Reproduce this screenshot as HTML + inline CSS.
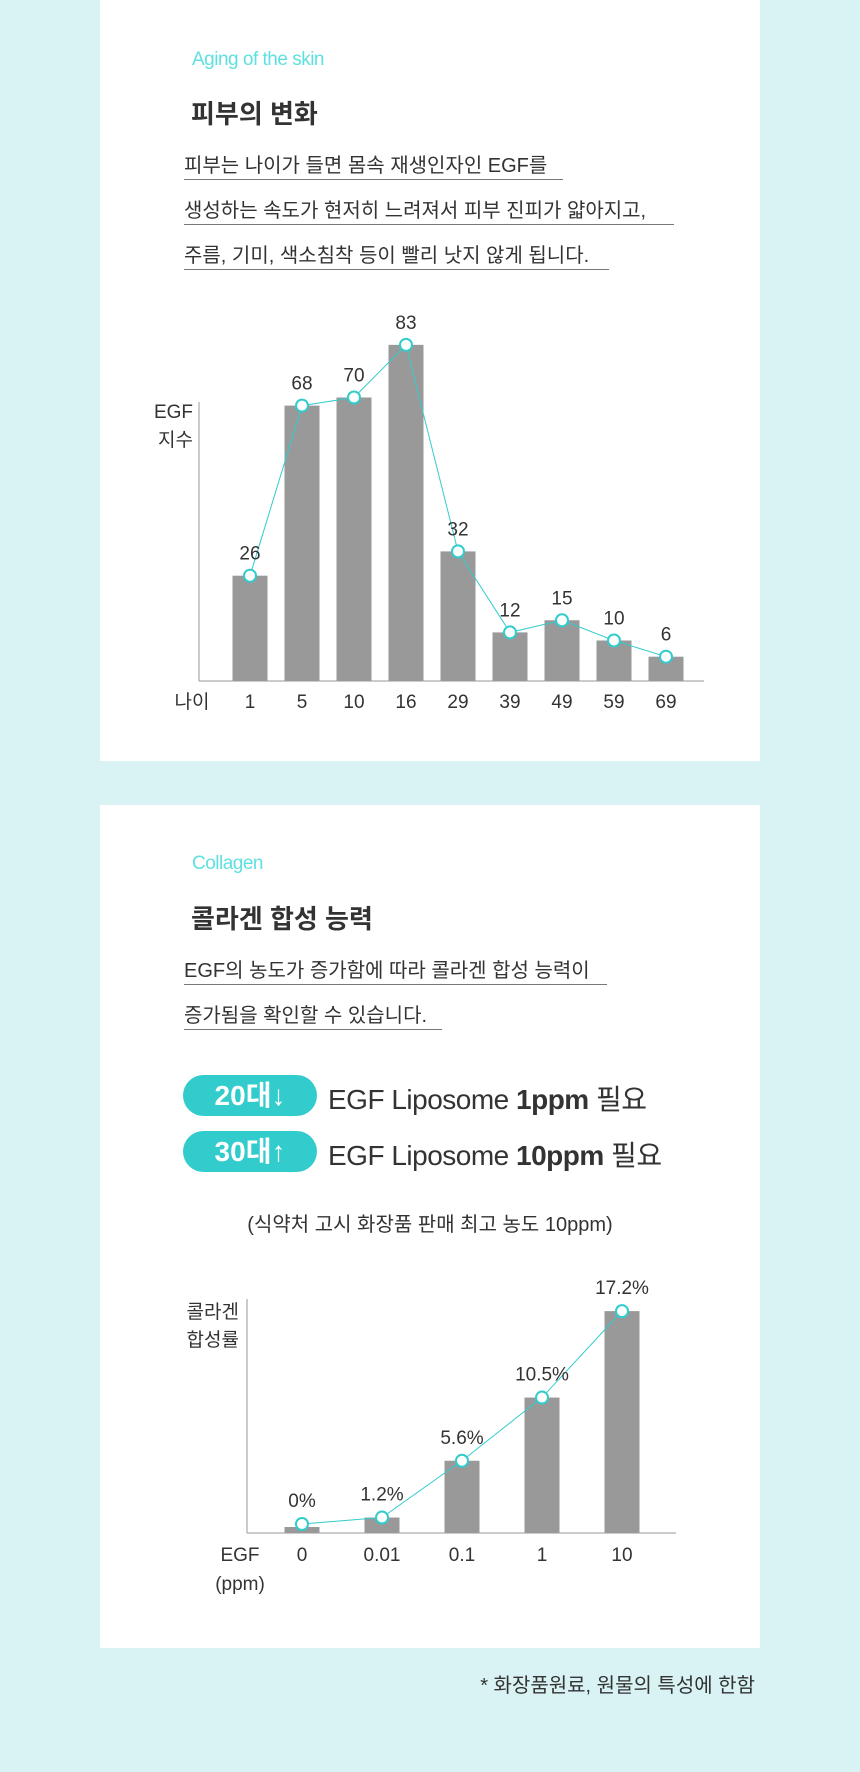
<!DOCTYPE html>
<html><head><meta charset="utf-8">
<style>
body{margin:0;width:860px;height:1772px;background:#d9f3f4;position:relative;overflow:hidden;font-family:"Liberation Sans","Noto Sans CJK KR",sans-serif;color:#333}
.panel{position:absolute;left:100px;width:660px;background:#fff}
.abs{position:absolute;white-space:nowrap}
.eng{color:#5fe0e0;font-size:19px;font-weight:300;letter-spacing:-0.5px}
.title{font-size:26px;font-weight:bold;color:#333}
.para{font-size:20px;color:#333;border-bottom:1.5px solid #777;line-height:26px}
.pill{position:absolute;left:183px;width:134px;height:41px;border-radius:21px;background:#33cccc;color:#fff;font-weight:bold;font-size:28px;line-height:41px;text-align:center}
.big{font-size:28px;letter-spacing:-0.5px}
svg text{font-family:"Liberation Sans","Noto Sans CJK KR",sans-serif;fill:#333}
</style></head><body>
<div class="panel" style="top:0;height:761px"></div>
<div class="panel" style="top:805px;height:843px"></div>

<div class="abs eng" style="left:192px;top:49px">Aging of the skin</div>
<div class="abs title" style="left:191px;top:94px">피부의 변화</div>
<div class="abs para" style="left:184px;top:153px;width:379px">피부는 나이가 들면 몸속 재생인자인 EGF를</div>
<div class="abs para" style="left:184px;top:198px;width:490px">생성하는 속도가 현저히 느려져서 피부 진피가 얇아지고,</div>
<div class="abs para" style="left:184px;top:243px;width:425px">주름, 기미, 색소침착 등이 빨리 낫지 않게 됩니다.</div>

<svg class="abs" style="left:0;top:0" width="860" height="761" id="c1"></svg>

<div class="abs eng" style="left:192px;top:853px">Collagen</div>
<div class="abs title" style="left:191px;top:899px">콜라겐 합성 능력</div>
<div class="abs para" style="left:184px;top:958px;width:423px">EGF의 농도가 증가함에 따라 콜라겐 합성 능력이</div>
<div class="abs para" style="left:184px;top:1003px;width:258px">증가됨을 확인할 수 있습니다.</div>

<div class="pill" style="top:1075px">20대↓</div>
<div class="abs big" style="left:328px;top:1078px">EGF Liposome <b>1ppm</b> 필요</div>
<div class="pill" style="top:1131px">30대↑</div>
<div class="abs big" style="left:328px;top:1134px">EGF Liposome <b>10ppm</b> 필요</div>
<div class="abs" style="left:0;width:860px;text-align:center;top:1208px;font-size:20px">(식약처 고시 화장품 판매 최고 농도 10ppm)</div>

<svg class="abs" style="left:0;top:0" width="860" height="1772" id="c2"></svg>

<div class="abs" style="right:105px;top:1669px;font-size:20px">* 화장품원료, 원물의 특성에 한함</div>

<script>
const ages = ["1","5","10","16","29","39","49","59","69"];
const egfIndex = [26,68,70,83,32,12,15,10,6];
const ppmLabels = ["0","0.01","0.1","1","10"];
const collagenRate = [0,1.2,5.6,10.5,17.2];
const collagenText = ["0%","1.2%","5.6%","10.5%","17.2%"];

const NS="http://www.w3.org/2000/svg";
function mk(svg,tag,attrs,txt){const e=document.createElementNS(NS,tag);for(const k in attrs)e.setAttribute(k,attrs[k]);if(txt!==undefined)e.textContent=txt;svg.appendChild(e);return e;}

// chart 1
(function(){
  const s=document.getElementById('c1');
  const base=681, x0=250, step=52, bw=35, k=4.05;
  const xs=i=>x0+i*step, ys=v=>base-v*k;
  let e;
  e=mk(s,'line',{x1:199,y1:402,x2:199,y2:base,stroke:'#999','stroke-width':1});
  
  
  e=mk(s,'line',{x1:199,y1:base,x2:704,y2:base,stroke:'#999','stroke-width':1});
  
  
  e=mk(s,'text',{x:193,y:418,'font-size':19,'text-anchor':'end'},'EGF');
  
  
  e=mk(s,'text',{x:193,y:446,'font-size':19,'text-anchor':'end'},'지수');
  
  
  e=mk(s,'text',{x:192,y:708,'font-size':19,'text-anchor':'middle'},'나이');
  
  
  egfIndex.forEach((v,i)=>{
    e=mk(s,'rect',{x:xs(i)-bw/2,y:ys(v),width:bw,height:v*k,fill:'#999'});
    
    
    e=mk(s,'text',{x:xs(i),y:708,'font-size':19,'text-anchor':'middle'},ages[i]);
    
    
  });
  e=mk(s,'polyline',{points:egfIndex.map((v,i)=>xs(i)+','+ys(v)).join(' '),fill:'none',stroke:'#33cccc','stroke-width':1});
  
  
  egfIndex.forEach((v,i)=>{
    e=mk(s,'circle',{cx:xs(i),cy:ys(v),r:6,fill:'#fff',stroke:'#33cccc','stroke-width':2});
    
    
    e=mk(s,'text',{x:xs(i),y:ys(v)-16,'font-size':19,'text-anchor':'middle'},String(v));
    
    
  });
})();

// chart 2
(function(){
  const s=document.getElementById('c2');
  const base=1533, x0=302, step=80, bw=35, k=12.9;
  const xs=i=>x0+i*step, h=v=>Math.max(6,v*k), ys=v=>base-h(v);
  let e;
  e=mk(s,'line',{x1:247,y1:1299,x2:247,y2:base,stroke:'#999','stroke-width':1});
  
  
  e=mk(s,'line',{x1:247,y1:base,x2:676,y2:base,stroke:'#999','stroke-width':1});
  
  
  e=mk(s,'text',{x:239,y:1318,'font-size':19,'text-anchor':'end'},'콜라겐');
  
  
  e=mk(s,'text',{x:239,y:1346,'font-size':19,'text-anchor':'end'},'합성률');
  
  
  e=mk(s,'text',{x:240,y:1561,'font-size':19,'text-anchor':'middle'},'EGF');
  
  
  e=mk(s,'text',{x:240,y:1590,'font-size':19,'text-anchor':'middle'},'(ppm)');
  
  
  collagenRate.forEach((v,i)=>{
    e=mk(s,'rect',{x:xs(i)-bw/2,y:ys(v),width:bw,height:h(v),fill:'#999'});
    
    
    e=mk(s,'text',{x:xs(i),y:1561,'font-size':19,'text-anchor':'middle'},ppmLabels[i]);
    
    
  });
  const py=v=>ys(v)+(v===0?-3:0);
  e=mk(s,'polyline',{points:collagenRate.map((v,i)=>xs(i)+','+py(v)).join(' '),fill:'none',stroke:'#33cccc','stroke-width':1});
  
  
  collagenRate.forEach((v,i)=>{
    e=mk(s,'circle',{cx:xs(i),cy:py(v),r:6,fill:'#fff',stroke:'#33cccc','stroke-width':2});
    
    
    e=mk(s,'text',{x:xs(i),y:py(v)-17,'font-size':19,'text-anchor':'middle'},collagenText[i]);
    
    
  });
})();
</script>
</body></html>
